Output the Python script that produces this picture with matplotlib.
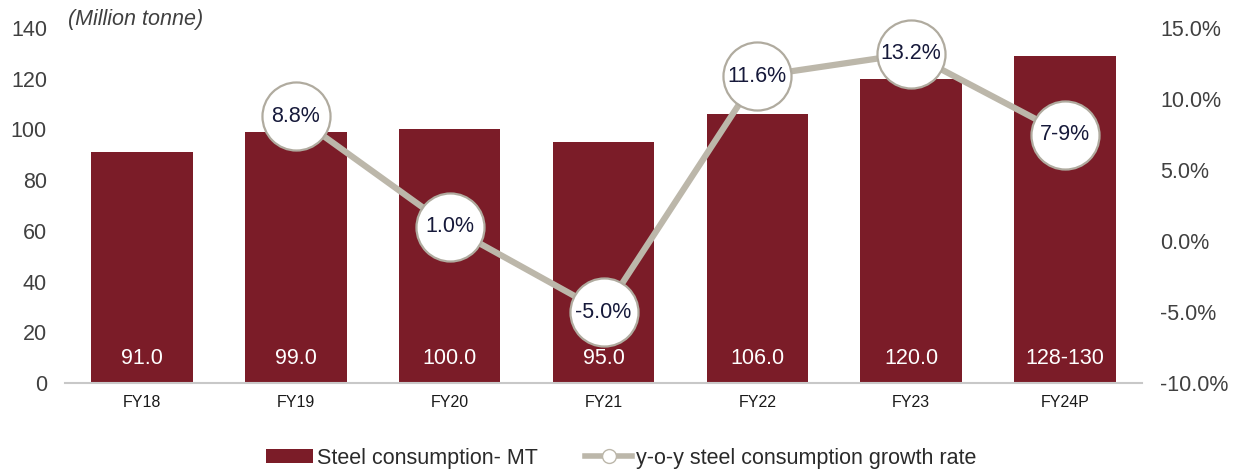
import matplotlib.pyplot as plt
from matplotlib.lines import Line2D
from matplotlib.patches import Patch

plt.rcParams['font.family'] = ['Liberation Sans', 'DejaVu Sans']

# data
years = ['FY18', 'FY19', 'FY20', 'FY21', 'FY22', 'FY23', 'FY24P']
consumption = [91.0, 99.0, 100.0, 95.0, 106.0, 120.0, 129.0]
consumption_labels = ['91.0', '99.0', '100.0', '95.0', '106.0', '120.0', '128-130']
growth = [None, 8.8, 1.0, -5.0, 11.6, 13.2, 7.5]
growth_labels = ['', '8.8%', '1.0%', '-5.0%', '11.6%', '13.2%', '7-9%']

bar_color = '#7b1c28'
line_color = '#bcb7aa'
edge_color = '#b0ab9f'
text_color = '#404040'

W, H = 1236, 469
fig = plt.figure(figsize=(W / 100, H / 100), dpi=100)
# axes box in pixels: x 65..1142, y 28..383
ax = fig.add_axes([65 / W, 1 - 383 / H, (1142 - 65) / W, (383 - 28) / H])
x = list(range(len(years)))

ax.bar(x, consumption, width=0.66, color=bar_color, zorder=2)
for xi, lab in zip(x, consumption_labels):
    ax.text(xi, 9.8, lab, ha='center', va='center', color='white', fontsize=15.5, zorder=3)

ax.set_xlim(-0.5, len(years) - 0.5)
ax.set_ylim(0, 140)
ax.set_yticks(range(0, 141, 20))
ax.set_xticks(x)
ax.set_xticklabels(years, fontsize=11.5, color='#1a1a1a')
ax.tick_params(axis='x', length=0, pad=8.5)
ax.tick_params(axis='y', length=0, labelsize=15.5, labelcolor=text_color, pad=13)
for s in ['top', 'right', 'left']:
    ax.spines[s].set_visible(False)
ax.spines['bottom'].set_color('#c8c8c8')
ax.spines['bottom'].set_linewidth(1.5)
fig.text(68 / W, 1 - 20 / H, '(Million tonne)', fontsize=15.5, style='italic',
         color=text_color, va='center', ha='left')

ax2 = ax.twinx()
gx = [xi for xi, g in zip(x, growth) if g is not None]
gy = [g for g in growth if g is not None]
ax2.plot(gx, gy, color=line_color, linewidth=4.5, zorder=3, clip_on=False)
ax2.plot(gx, gy, linestyle='none', marker='o', markersize=49, markerfacecolor='white',
         markeredgecolor=edge_color, markeredgewidth=1.6, zorder=4, clip_on=False)
for xi, g, lab in zip(x, growth, growth_labels):
    if g is not None:
        ax2.text(xi, g, lab, ha='center', va='center', fontsize=15.5, color='#16193a', zorder=5)
ax2.set_ylim(-10, 15)
ax2.set_yticks(range(-10, 16, 5))
ax2.set_yticklabels([f'{v:.1f}%' for v in range(-10, 16, 5)])
ax2.tick_params(axis='y', length=0, labelsize=15.5, labelcolor=text_color, pad=13)
for s in ['top', 'right', 'left', 'bottom']:
    ax2.spines[s].set_visible(False)

handles = [
    Patch(facecolor=bar_color, label='Steel consumption- MT'),
    Line2D([0], [0], color=line_color, linewidth=4, marker='o', markersize=10,
           markerfacecolor='white', markeredgecolor=line_color,
           label='y-o-y steel consumption growth rate'),
]
fig.legend(handles=handles, loc='center', bbox_to_anchor=(621 / W, 1 - 458 / H), ncol=2,
           frameon=False, fontsize=15.5, handlelength=2.2, handleheight=0.6,
           handletextpad=0.15, columnspacing=2.2, labelcolor='#2a2a2a',
           borderpad=0, borderaxespad=0)

fig.savefig('out.png', dpi=100)
